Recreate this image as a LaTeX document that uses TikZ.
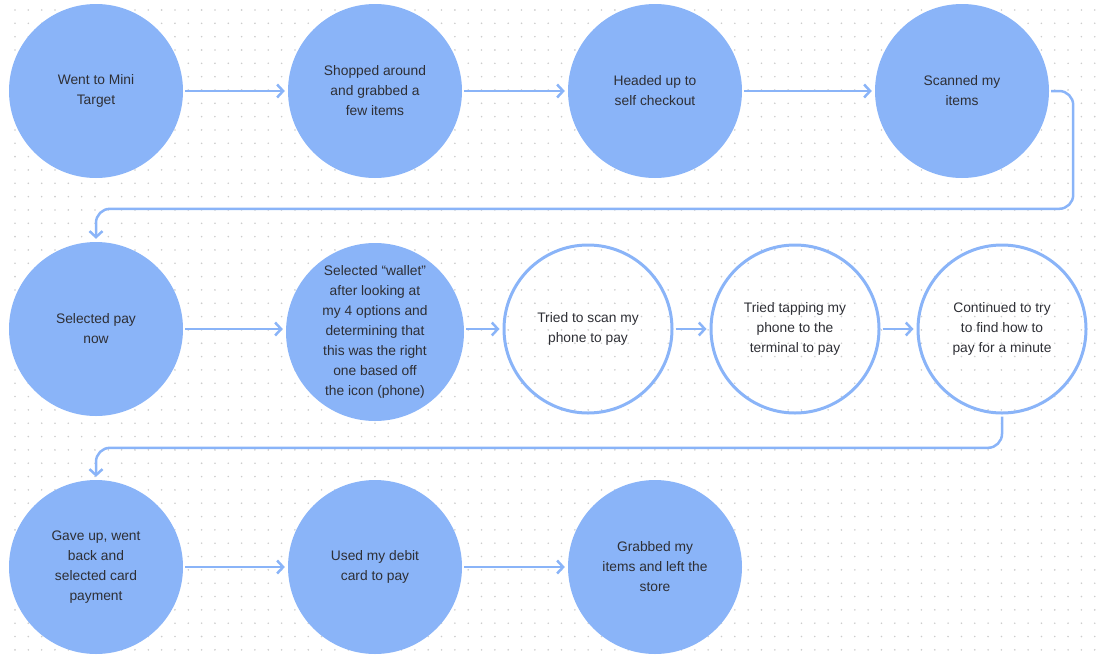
\documentclass[tikz,border=0pt]{standalone}
\usepackage{fontspec}
\setmainfont{Liberation Sans}
\usepackage{tikz}
\usetikzlibrary{arrows.meta, positioning, calc}
\usepackage{xcolor}
\definecolor{stepblue}{HTML}{8AB4F8}
\definecolor{steptext}{HTML}{2E2F35}
\definecolor{griddot}{HTML}{CDCDCD}
\tikzset{
  done/.style={circle, fill=stepblue, minimum size=174pt, inner sep=0pt, align=center,
    text=steptext, font=\fontsize{13.8}{20}\selectfont},
  tried/.style={circle, draw=stepblue, line width=3pt, minimum size=168pt, inner sep=0pt,
    align=center, text=steptext, font=\fontsize{13.8}{20}\selectfont},
  flow/.style={draw=stepblue, line width=2.5pt, -{Straight Barb[length=6pt,width=13pt]},
    shorten <=2pt, shorten >=3pt},
}

\begin{document}
\begin{tikzpicture}[x=1pt, y=-1pt]
  \useasboundingbox (0,0) rectangle (1102,659);
  % dotted background
  \foreach \i in {0,...,82} {
    \foreach \j in {0,...,49} {
      \fill[griddot] (15+13.33*\i, 10+13.33*\j) circle (0.9pt);
    }
  }
  % first row
  \node[done] (went) at (96,91) {Went to Mini\\Target};
  \node[done] (shop) at (375,91) {Shopped around\\and grabbed a\\few items};
  \node[done] (head) at (655,91) {Headed up to\\self checkout};
  \node[done] (scan) at (962,91) {Scanned my\\items};
  % second row
  \node[done] (pay) at (96,329) {Selected pay\\now};
  \node[done, minimum size=178pt] (wallet) at (375,332) {Selected “wallet”\\after looking at\\my 4 options and\\determining that\\this was the right\\one based off\\the icon (phone)};
  \node[tried] (phone) at (588,329) {Tried to scan my\\phone to pay};
  \node[tried] (tap) at (795,329) {Tried tapping my\\phone to the\\terminal to pay};
  \node[tried] (cont) at (1002,329) {Continued to try\\to find how to\\pay for a minute};
  % third row
  \node[done] (gave) at (96,567) {Gave up, went\\back and\\selected card\\payment};
  \node[done] (debit) at (375,567) {Used my debit\\card to pay};
  \node[done] (left) at (655,567) {Grabbed my\\items and left the\\store};

  \draw[flow] (went) -- (shop);
  \draw[flow] (shop) -- (head);
  \draw[flow] (head) -- (scan);
  \draw[flow, rounded corners=14pt] (scan.east) -- ++(24,0) |- ($(pay.north)+(0,-33)$) -- (pay.north);
  \draw[flow] (pay.east) -- (pay.east -| wallet.west);
  \draw[flow] (wallet.east |- phone.west) -- (phone.west);
  \draw[flow] (phone) -- (tap);
  \draw[flow] (tap) -- (cont);
  \draw[flow, rounded corners=14pt] (cont.south) |- ($(gave.north)+(0,-32)$) -- (gave.north);
  \draw[flow] (gave) -- (debit);
  \draw[flow] (debit) -- (left);
\end{tikzpicture}
\end{document}
